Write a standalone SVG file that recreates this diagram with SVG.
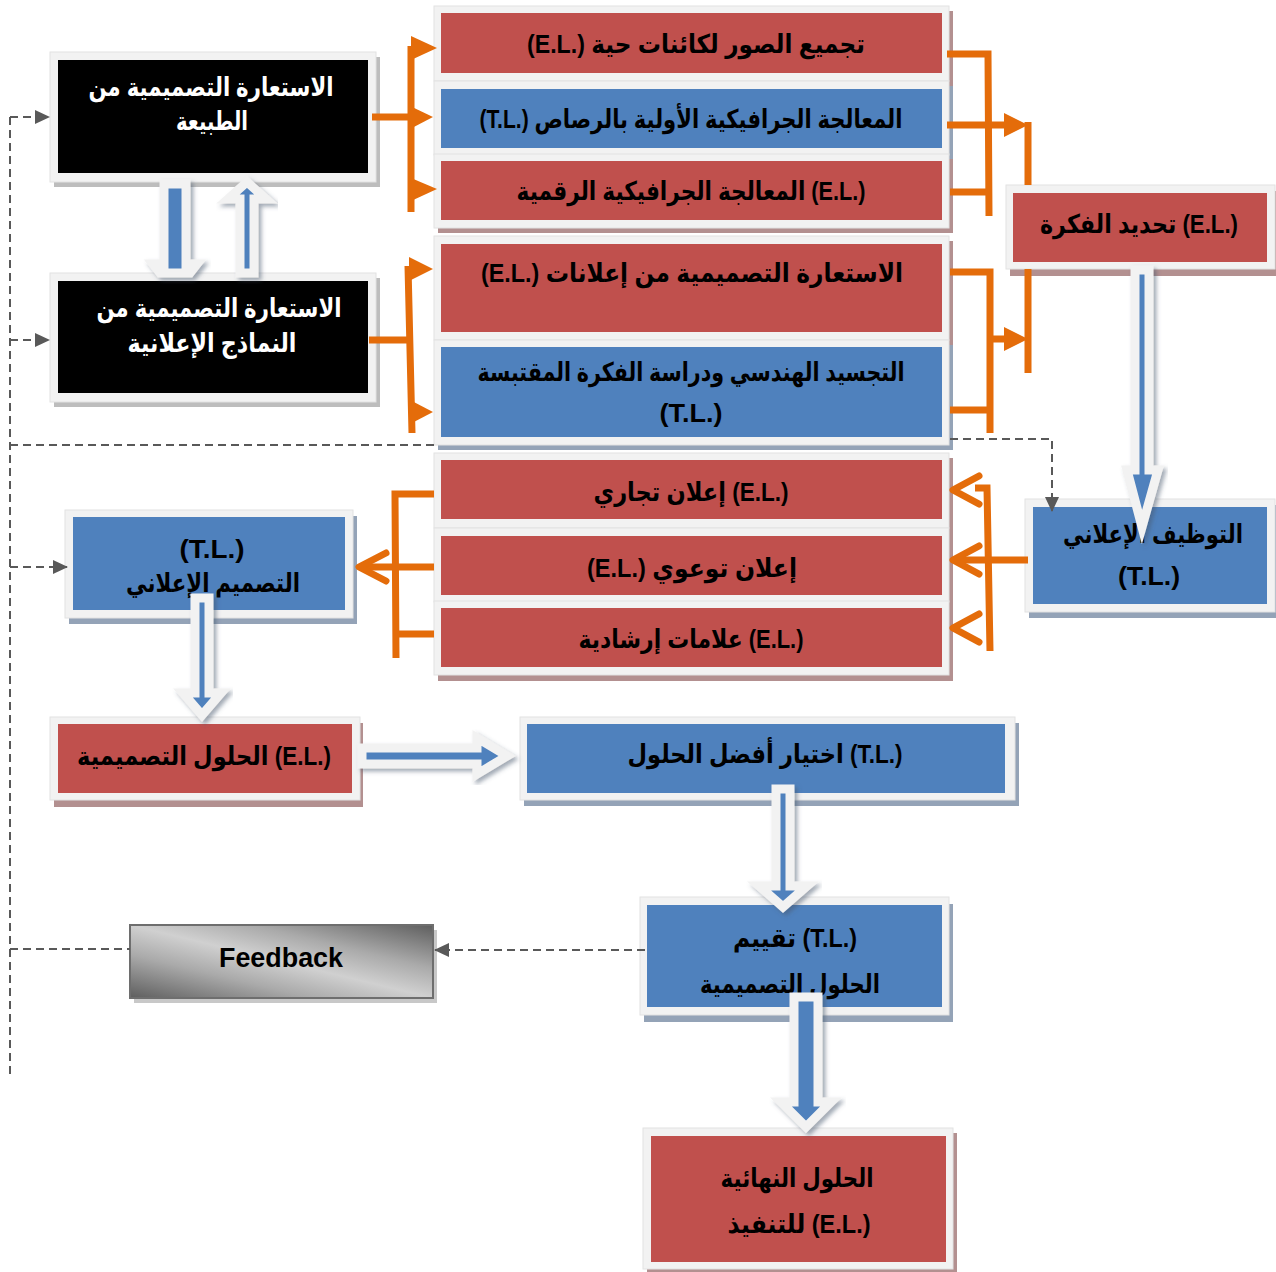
<svg xmlns="http://www.w3.org/2000/svg" width="1276" height="1272" viewBox="0 0 1276 1272">
<style>
.frame{fill:#f2f2f2;stroke:#e2e2e2;stroke-width:1}
.red{fill:#c0504d}.blue{fill:#4f81bd}.blk{fill:#000}
.shr{fill:#b39090}.shb{fill:#94a3b7}.shg{fill:#bdbdbd}
.t{font-family:"Liberation Sans","DejaVu Sans",sans-serif;font-weight:bold;font-size:26px;text-anchor:middle;fill:#000}
.w{fill:#fff}
.or{stroke:#e46c0a;stroke-width:7;fill:none}
.orc{stroke:#e46c0a;stroke-width:7;fill:none;stroke-linecap:round;stroke-linejoin:round}
.orf{fill:#e46c0a}
.dash{stroke:#595959;stroke-width:2;stroke-dasharray:8 5;fill:none}
.ba{fill:#4f81bd;stroke:#f2f2f2;stroke-width:9;stroke-linejoin:miter;filter:url(#ash)}
</style>
<defs>
<filter id="ash" x="-30%" y="-30%" width="160%" height="160%">
<feDropShadow dx="3" dy="3" stdDeviation="2" flood-color="#44546a" flood-opacity="0.5"/>
</filter>
<marker id="da" markerWidth="16" markerHeight="16" refX="14" refY="8" orient="auto" markerUnits="userSpaceOnUse">
<path d="M0,1 L15,8 L0,15 Z" fill="#595959"/>
</marker>
<linearGradient id="fb" x1="1" y1="0" x2="0" y2="1">
<stop offset="0" stop-color="#5e5e5e"/>
<stop offset="0.3" stop-color="#aaaaaa"/>
<stop offset="0.5" stop-color="#d0d0d0"/>
<stop offset="0.7" stop-color="#aaaaaa"/>
<stop offset="1" stop-color="#5e5e5e"/>
</linearGradient>
</defs>

<g id="n1">
<rect class="shg" x="54" y="57" width="326" height="130"/>
<rect class="frame" x="50" y="52" width="326" height="130"/>
<rect class="blk" x="58" y="60" width="310" height="113"/>
<text class="t w" x="211" y="96" textLength="245" lengthAdjust="spacingAndGlyphs">الاستعارة التصميمية من</text>
<text class="t w" x="212" y="130" textLength="72" lengthAdjust="spacingAndGlyphs">الطبيعة</text>
</g>
<g id="n2">
<rect class="shg" x="54" y="278" width="326" height="129"/>
<rect class="frame" x="50" y="273" width="326" height="129"/>
<rect class="blk" x="58" y="281" width="310" height="112"/>
<text class="t w" x="219" y="317" textLength="245" lengthAdjust="spacingAndGlyphs">الاستعارة التصميمية من</text>
<text class="t w" x="212" y="352" textLength="169" lengthAdjust="spacingAndGlyphs">النماذج الإعلانية</text>
</g>

<g id="n3">
<rect class="shr" x="438" y="11" width="515" height="75"/>
<rect class="frame" x="434" y="6" width="515" height="75"/>
<rect class="red" x="441" y="13" width="501" height="60"/>
<text class="t" x="696" y="53" textLength="338" lengthAdjust="spacingAndGlyphs">(E.L.) تجميع الصور لكائنات حية</text>
</g>
<g id="n4">
<rect class="shb" x="438" y="86" width="515" height="74"/>
<rect class="frame" x="434" y="81" width="515" height="74"/>
<rect class="blue" x="441" y="89" width="501" height="59"/>
<text class="t" x="691" y="128" textLength="423" lengthAdjust="spacingAndGlyphs">(T.L.)  المعالجة الجرافيكية الأولية بالرصاص</text>
</g>
<g id="n5">
<rect class="shr" x="438" y="159" width="515" height="74"/>
<rect class="frame" x="434" y="154" width="515" height="74"/>
<rect class="red" x="441" y="161" width="501" height="59"/>
<text class="t" x="691" y="200" textLength="349" lengthAdjust="spacingAndGlyphs">المعالجة الجرافيكية الرقمية (E.L.)</text>
</g>
<g id="n6">
<rect class="shr" x="438" y="241" width="515" height="104"/>
<rect class="frame" x="434" y="236" width="515" height="104"/>
<rect class="red" x="441" y="244" width="501" height="88"/>
<text class="t" x="692" y="282" textLength="422" lengthAdjust="spacingAndGlyphs">(E.L.)   الاستعارة التصميمية من إعلانات</text>
</g>
<g id="n7">
<rect class="shb" x="438" y="345" width="515" height="105"/>
<rect class="frame" x="434" y="340" width="515" height="105"/>
<rect class="blue" x="441" y="347" width="501" height="90"/>
<text class="t" x="691" y="381" textLength="427" lengthAdjust="spacingAndGlyphs">التجسيد الهندسي ودراسة الفكرة المقتبسة</text>
<text class="t" x="691" y="422" textLength="63" lengthAdjust="spacingAndGlyphs">(T.L.)</text>
</g>

<g id="n8">
<rect class="shr" x="1010" y="191" width="269" height="85"/>
<rect class="frame" x="1006" y="185" width="269" height="84"/>
<rect class="red" x="1013" y="193" width="254" height="69"/>
<text class="t" x="1139" y="233" textLength="198" lengthAdjust="spacingAndGlyphs">تحديد الفكرة (E.L.)</text>
</g>
<g id="n9">
<rect class="shb" x="1029" y="505" width="250" height="113"/>
<rect class="frame" x="1025" y="499" width="250" height="113"/>
<rect class="blue" x="1033" y="507" width="234" height="97"/>
<text class="t" x="1153" y="543" textLength="180" lengthAdjust="spacingAndGlyphs">التوظيف الإعلاني</text>
<text class="t" x="1149" y="585" textLength="62" lengthAdjust="spacingAndGlyphs">(T.L.)</text>
</g>

<g id="n10">
<rect class="shr" x="438" y="458" width="515" height="75"/>
<rect class="frame" x="434" y="453" width="515" height="75"/>
<rect class="red" x="441" y="460" width="501" height="59"/>
<text class="t" x="691" y="501" textLength="195" lengthAdjust="spacingAndGlyphs">إعلان تجاري (E.L.)</text>
</g>
<g id="n11">
<rect class="shr" x="438" y="533" width="515" height="74"/>
<rect class="frame" x="434" y="528" width="515" height="74"/>
<rect class="red" x="441" y="536" width="501" height="59"/>
<text class="t" x="692" y="577" textLength="210" lengthAdjust="spacingAndGlyphs">(E.L.)  إعلان توعوي</text>
</g>
<g id="n12">
<rect class="shr" x="438" y="606" width="515" height="75"/>
<rect class="frame" x="434" y="601" width="515" height="74"/>
<rect class="red" x="441" y="608" width="501" height="59"/>
<text class="t" x="691" y="648" textLength="225" lengthAdjust="spacingAndGlyphs">علامات إرشادية (E.L.)</text>
</g>

<g id="n13">
<rect class="shb" x="69" y="516" width="288" height="108"/>
<rect class="frame" x="65" y="510" width="288" height="108"/>
<rect class="blue" x="73" y="517" width="272" height="93"/>
<text class="t" x="212" y="558" textLength="65" lengthAdjust="spacingAndGlyphs">(T.L.)</text>
<text class="t" x="213" y="592" textLength="174" lengthAdjust="spacingAndGlyphs">التصميم الإعلاني</text>
</g>
<g id="n14">
<rect class="shr" x="54" y="723" width="309" height="84"/>
<rect class="frame" x="50" y="717" width="310" height="83"/>
<rect class="red" x="58" y="724" width="294" height="69"/>
<text class="t" x="204" y="765" textLength="254" lengthAdjust="spacingAndGlyphs">الحلول التصميمية (E.L.)</text>
</g>
<g id="n15">
<rect class="shb" x="524" y="723" width="495" height="83"/>
<rect class="frame" x="520" y="717" width="495" height="83"/>
<rect class="blue" x="527" y="724" width="478" height="69"/>
<text class="t" x="765" y="763" textLength="275" lengthAdjust="spacingAndGlyphs">اختيار أفضل الحلول (T.L.)</text>
</g>
<g id="n16">
<rect class="shb" x="644" y="904" width="309" height="118"/>
<rect class="frame" x="640" y="897" width="309" height="118"/>
<rect class="blue" x="647" y="905" width="295" height="102"/>
<text class="t" x="795" y="947" textLength="124" lengthAdjust="spacingAndGlyphs">تقييم (T.L.)</text>
<text class="t" x="790" y="993" textLength="180" lengthAdjust="spacingAndGlyphs">الحلول التصميمية</text>
</g>
<g id="n17">
<rect x="134" y="930" width="303" height="73" fill="#c8c8c8"/>
<rect x="130" y="925" width="303" height="73" fill="url(#fb)" stroke="#6e6e6e" stroke-width="2"/>
<text class="t" x="281" y="967" style="font-size:27px" textLength="124" lengthAdjust="spacingAndGlyphs">Feedback</text>
</g>
<g id="n18">
<rect class="shr" x="647" y="1133" width="310" height="139"/>
<rect class="frame" x="643" y="1128" width="310" height="141"/>
<rect class="red" x="651" y="1136" width="295" height="126"/>
<text class="t" x="797" y="1187" textLength="153" lengthAdjust="spacingAndGlyphs">الحلول النهائية</text>
<text class="t" x="799" y="1233" textLength="143" lengthAdjust="spacingAndGlyphs">للتنفيذ  (E.L.)</text>
</g>

<g id="connectors">
<path class="dash" d="M10,117 V1075"/>
<path class="dash" d="M10,117 H49" marker-end="url(#da)"/>
<path class="dash" d="M10,340 H49" marker-end="url(#da)"/>
<path class="dash" d="M10,445 H435"/>
<path class="dash" d="M950,439 H1052 V511" marker-end="url(#da)"/>
<path class="dash" d="M10,567 H67" marker-end="url(#da)"/>
<path class="dash" d="M10,949 H130"/>
<path class="dash" d="M645,950 H435" marker-end="url(#da)"/>

<path class="or" d="M372,117 H411 M411,46 V212"/>
<polygon class="orf" points="411,36 437,48 411,60"/>
<polygon class="orf" points="410,106 433,117 410,129"/>
<polygon class="orf" points="411,178 437,189 411,201"/>
<path class="or" d="M369,340 H409 M408,266 L412,433"/>
<polygon class="orf" points="409,257 433,269 409,281"/>
<polygon class="orf" points="410,400 433,412 410,424"/>

<path class="or" d="M947,54 H988 L989,216 M950,192 H989 M947,125 H1006"/>
<polygon class="orf" points="1004,113 1028,125 1004,137"/>
<path class="or" d="M1028,122 V185 M1028,269 V373"/>
<path class="or" d="M950,272 H990 V433 M950,410 H990 M990,339 H1006"/>
<polygon class="orf" points="1004,327 1028,339 1004,351"/>

<path class="or" d="M975,488 H987 L990,651 M1028,560 H956"/>
<path class="orc" d="M979,476 L953,490 L979,504 M979,546 L953,560 L979,574 M979,614 L953,628 L979,642"/>
<path class="or" d="M434,494 H395 L396,658 M434,634 H396 M434,567 H362"/>
<path class="orc" d="M386,553 L359,567 L386,581"/>

<polygon class="ba" points="164,184 186,184 186,264 197,264 190,273 160,273 153,264 164,264"/>
<polygon class="ba" points="240,273 254,273 254,199 266,199 247,182 228,199 240,199"/>
<polygon class="ba" points="1135,270 1149,270 1149,470 1158,470 1142,527 1127,470 1135,470"/>
<polygon class="ba" points="195,598 209,598 209,693 221,693 202,715 183,693 195,693"/>
<polygon class="ba" points="362,748 477,748 477,738 507,756 477,774 477,764 362,764"/>
<polygon class="ba" points="776,789 790,789 790,886 807,886 783,907 759,886 776,886"/>
<polygon class="ba" points="794,997 818,997 818,1102 831,1102 806,1127 781,1102 794,1102"/>
</g>
</svg>
